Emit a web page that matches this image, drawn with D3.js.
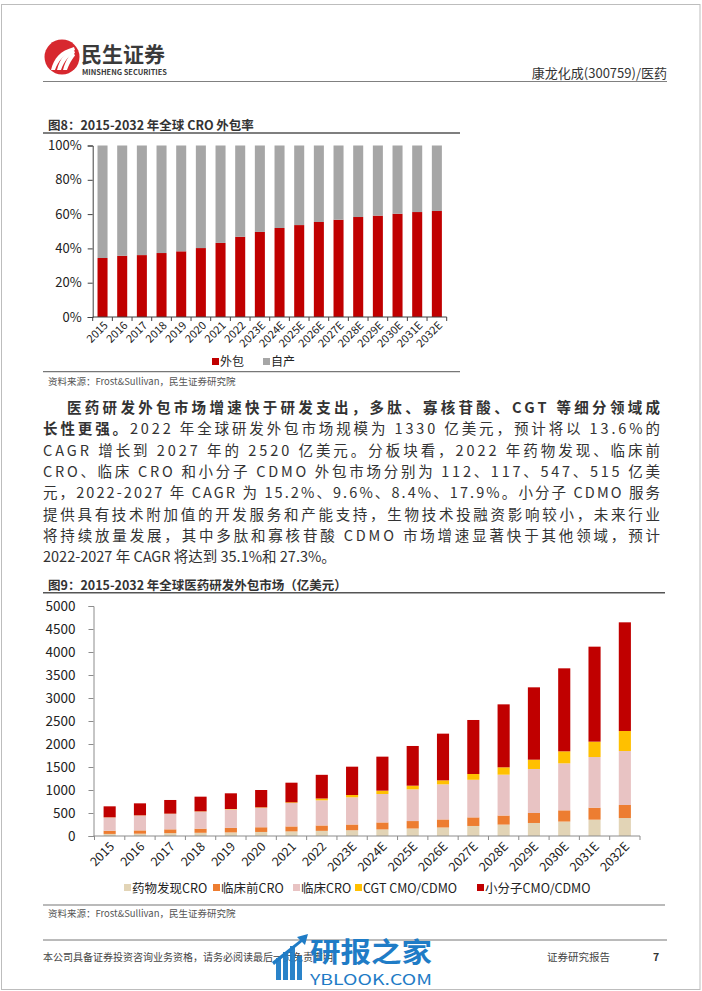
<!DOCTYPE html>
<html><head><meta charset="utf-8">
<script src="https://cdn.jsdelivr.net/npm/d3@7/dist/d3.min.js"></script>
<style>
html,body{margin:0;padding:0;background:#fff;}
svg text{font-family:"Noto Sans CJK SC","Noto Sans",sans-serif;}
</style></head>
<body>
<svg id="page" width="702" height="991"></svg>
<script>
// ---------- DATA ----------
const years = ["2015","2016","2017","2018","2019","2020","2021","2022","2023E","2024E","2025E","2026E","2027E","2028E","2029E","2030E","2031E","2032E"];
// Chart 1: CRO outsourcing rate (%)
const outsourced = [34.4,35.7,36.1,37.3,38.3,40.2,43.2,46.8,49.6,51.9,53.6,55.4,56.7,58.3,59.1,60.2,61.2,61.8];
const inhouse    = [65.6,64.3,63.9,62.7,61.7,59.8,56.8,53.2,50.4,48.1,46.4,44.6,43.3,41.7,40.9,39.8,38.8,38.2];
const pctTicks = [0,20,40,60,80,100];
const legend1 = ["外包","自产"];
// Chart 2: global pharma R&D outsourcing market (亿美元)
const discoveryCRO   = [45,50,62,70,78,88,100,112,125,143,163,185,218,248,283,314,355,391];
const preclinicalCRO = [70,72,83,90,98,102,108,117,125,152,162,175,187,197,217,244,261,283];
const clinicalCRO    = [288,323,336,370,403,423,509,547,591,618,689,763,817,888,957,1022,1101,1174];
const cgtCMO         = [3,4,5,6,8,10,15,39,50,73,80,87,126,160,202,261,334,435];
const smallMolCMO    = [239,261,297,319,341,377,427,515,616,739,863,1015,1174,1369,1573,1804,2065,2362];
const valTicks = [0,500,1000,1500,2000,2500,3000,3500,4000,4500,5000];
const legend2 = ["药物发现CRO","临床前CRO","临床CRO","CGT CMO/CDMO","小分子CMO/CDMO"];

const paragraph = [
  {x:67, w:593, parts:[{t:"医药研发外包市场增速快于研发支出，多肽、寡核苷酸、CGT 等细分领域成",b:true}]},
  {x:43, w:617, parts:[{t:"长性更强。",b:true},{t:"2022 年全球研发外包市场规模为 1330 亿美元，预计将以 13.6%的"}]},
  {x:43, w:617, parts:[{t:"CAGR 增长到 2027 年的 2520 亿美元。分板块看，2022 年药物发现、临床前"}]},
  {x:43, w:617, parts:[{t:"CRO、临床 CRO 和小分子 CDMO 外包市场分别为 112、117、547、515 亿美"}]},
  {x:43, w:617, parts:[{t:"元，2022-2027 年 CAGR 为 15.2%、9.6%、8.4%、17.9%。小分子 CDMO 服务"}]},
  {x:43, w:617, parts:[{t:"提供具有技术附加值的开发服务和产能支持，生物技术投融资影响较小，未来行业"}]},
  {x:43, w:617, parts:[{t:"将持续放量发展，其中多肽和寡核苷酸 CDMO 市场增速显著快于其他领域，预计"}]},
  {x:43, w:null, parts:[{t:"2022-2027 年 CAGR 将达到 35.1%和 27.3%。"}]}
];

// ---------- PAGE ----------
const svg = d3.select("#page");
const txt = "#333333";

svg.append("rect").attr("x",1.5).attr("y",4.5).attr("width",698.5).attr("height",985)
  .attr("fill","none").attr("stroke","#bdbdbd").attr("stroke-width",1);

// logo
const logo = svg.append("g");
logo.append("circle").attr("cx",62).attr("cy",57).attr("r",17.5).attr("fill","#D7282F");
[0,1,2].forEach(function(i){
  logo.append("path")
    .attr("d","M"+(51+i*6)+",70 C"+(54+i*6)+",58 "+(60+i*6)+",51 74,"+(47+i*3)+" L75,"+(50+i*3)+" C"+(64+i*6)+",54 "+(58+i*6)+",61 "+(55+i*6)+",70 Z")
    .attr("fill","#fff");
});
svg.append("text").attr("x",81).attr("y",62).attr("font-size",21).attr("font-weight","bold")
  .attr("fill","#3a3a3a").text("民生证券");
svg.append("text").attr("x",82).attr("y",75).attr("font-size",7).attr("font-weight","bold")
  .attr("fill","#3a3a3a").attr("textLength",85).attr("lengthAdjust","spacingAndGlyphs").text("MINSHENG SECURITIES");
svg.append("text").attr("x",667).attr("y",78).attr("text-anchor","end").attr("font-size",13)
  .attr("fill",txt).text("康龙化成(300759)/医药");
svg.append("line").attr("x1",43).attr("x2",667).attr("y1",81.5).attr("y2",81.5).attr("stroke","#808080").attr("stroke-width",1);

// ---------- CHART 1 ----------
svg.append("text").attr("x",48).attr("y",130).attr("font-size",12.5).attr("font-weight","bold")
  .attr("fill",txt).text("图8：2015-2032 年全球 CRO 外包率");
svg.append("line").attr("x1",43).attr("x2",460).attr("y1",133).attr("y2",133).attr("stroke","#555").attr("stroke-width",1.5);

const x1 = d3.scaleBand().domain(years).range([92.7,446.7]).paddingInner(0.49).paddingOuter(0.245);
const y1 = d3.scaleLinear().domain([0,100]).range([317,145.5]);
const g1 = svg.append("g");
const data1 = years.map((y,i)=>({year:y, out:outsourced[i], inh:inhouse[i]}));
const stack1 = d3.stack().keys(["out","inh"])(data1);
const col1 = ["#C00000","#A6A6A6"];
g1.selectAll("g.s").data(stack1).join("g").attr("fill",(d,i)=>col1[i])
  .selectAll("rect").data(d=>d).join("rect")
  .attr("x",d=>x1(d.data.year)).attr("width",x1.bandwidth())
  .attr("y",d=>y1(d[1])).attr("height",d=>y1(d[0])-y1(d[1]));

const ya1 = g1.append("g").attr("transform","translate(92.7,0)")
  .call(d3.axisLeft(y1).tickValues(pctTicks).tickFormat(d=>d+"%").tickSize(5).tickPadding(6));
ya1.select(".domain").attr("stroke","#404040");
ya1.selectAll(".tick line").attr("stroke","#404040");
ya1.selectAll("text").attr("font-size",13).attr("fill","#222").attr("font-family","'Noto Sans','Noto Sans CJK SC',sans-serif");

const xa1 = g1.append("g").attr("transform","translate(0,317)");
xa1.append("line").attr("x1",92.7).attr("x2",446.7).attr("stroke","#404040");
const bnd1 = years.map((y,i)=>92.7 + i*x1.step()).concat([446.7]);
xa1.selectAll("line.t").data(bnd1).join("line").attr("class","t")
  .attr("x1",d=>d).attr("x2",d=>d).attr("y1",0).attr("y2",4).attr("stroke","#404040");
xa1.selectAll("text").data(years).join("text")
  .attr("transform",d=>"translate("+(x1(d)+x1.bandwidth()/2+4)+",7) rotate(-45)")
  .attr("text-anchor","end").attr("dominant-baseline","middle")
  .attr("font-size",11).attr("fill","#222").attr("font-family","'Noto Sans','Noto Sans CJK SC',sans-serif").text(d=>d);

const lg1 = svg.append("g");
[[212,col1[0],legend1[0]],[263,col1[1],legend1[1]]].forEach(function(it){
  lg1.append("rect").attr("x",it[0]).attr("y",358).attr("width",7).attr("height",7).attr("fill",it[1]);
  lg1.append("text").attr("x",it[0]+8).attr("y",366).attr("font-size",12).attr("fill","#222").text(it[2]);
});
svg.append("line").attr("x1",43).attr("x2",460).attr("y1",371.7).attr("y2",371.7).attr("stroke","#777").attr("stroke-width",1.2);
svg.append("text").attr("x",48).attr("y",384.5).attr("font-size",9.5).attr("fill","#555").text("资料来源：Frost&Sullivan，民生证券研究院");

// ---------- PARAGRAPH ----------
paragraph.forEach(function(line,i){
  const t = svg.append("text").attr("x",line.x).attr("y",413 + i*21.3).attr("font-size",14.5).attr("fill","#333");
  if(line.w){ t.attr("textLength",line.w).attr("lengthAdjust","spacing"); }
  line.parts.forEach(function(p){
    t.append("tspan").attr("font-weight",p.b?"bold":"normal").text(p.t);
  });
});

// ---------- CHART 2 ----------
svg.append("text").attr("x",48).attr("y",589.5).attr("font-size",12.5).attr("font-weight","bold")
  .attr("fill",txt).text("图9：2015-2032 年全球医药研发外包市场（亿美元）");
svg.append("line").attr("x1",43).attr("x2",665).attr("y1",592.7).attr("y2",592.7).attr("stroke","#555").attr("stroke-width",1.5);

const x2 = d3.scaleBand().domain(years).range([94.5,640]).paddingInner(0.6).paddingOuter(0.3);
const y2 = d3.scaleLinear().domain([0,5000]).range([836,606]);
const g2 = svg.append("g");
const keys2 = ["a","b","c","d","e"];
const data2 = years.map((y,i)=>({year:y, a:discoveryCRO[i], b:preclinicalCRO[i], c:clinicalCRO[i], d:cgtCMO[i], e:smallMolCMO[i]}));
const stack2 = d3.stack().keys(keys2)(data2);
const col2 = ["#E2D4B6","#ED7D31","#E8C3C3","#FFC000","#C00000"];
g2.selectAll("g.s").data(stack2).join("g").attr("fill",(d,i)=>col2[i])
  .selectAll("rect").data(d=>d).join("rect")
  .attr("x",d=>x2(d.data.year)).attr("width",x2.bandwidth())
  .attr("y",d=>y2(d[1])).attr("height",d=>y2(d[0])-y2(d[1]));

const ya2 = g2.append("g").attr("transform","translate(93.5,0)")
  .call(d3.axisLeft(y2).tickValues(valTicks).tickFormat(d3.format("d")).tickSize(5).tickPadding(13));
ya2.select(".domain").attr("stroke","#8c8c8c");
ya2.selectAll(".tick line").attr("stroke","#8c8c8c");
ya2.selectAll("text").attr("font-size",13.5).attr("fill","#222").attr("font-family","'Noto Sans','Noto Sans CJK SC',sans-serif");

const xa2 = g2.append("g").attr("transform","translate(0,836)");
xa2.append("line").attr("x1",93.5).attr("x2",640).attr("stroke","#8c8c8c");
const bnd2 = years.map((y,i)=>94.5 + i*x2.step()).concat([640]);
xa2.selectAll("line.t").data(bnd2).join("line").attr("class","t")
  .attr("x1",d=>d).attr("x2",d=>d).attr("y1",0).attr("y2",4).attr("stroke","#8c8c8c");
xa2.selectAll("text").data(years).join("text")
  .attr("transform",d=>"translate("+(x2(d)+x2.bandwidth()/2+3)+",9) rotate(-45)")
  .attr("text-anchor","end").attr("dominant-baseline","middle")
  .attr("font-size",12.5).attr("fill","#222").attr("font-family","'Noto Sans','Noto Sans CJK SC',sans-serif").text(d=>d);

const lgx = [124,213,293,355,477];
const lg2 = svg.append("g");
legend2.forEach(function(name,i){
  lg2.append("rect").attr("x",lgx[i]).attr("y",884).attr("width",7).attr("height",7).attr("fill",col2[i]);
  lg2.append("text").attr("x",lgx[i]+8).attr("y",892.5).attr("font-size",12.5).attr("fill","#222").text(name);
});
svg.append("line").attr("x1",43).attr("x2",665).attr("y1",905).attr("y2",905).attr("stroke","#777").attr("stroke-width",1.2);
svg.append("text").attr("x",48).attr("y",916.5).attr("font-size",9.5).attr("fill","#555").text("资料来源：Frost&Sullivan，民生证券研究院");

// ---------- FOOTER ----------
svg.append("line").attr("x1",43).attr("x2",667).attr("y1",940).attr("y2",940).attr("stroke","#777").attr("stroke-width",1);
svg.append("text").attr("x",43).attr("y",960.5).attr("font-size",10).attr("fill","#444").text("本公司具备证券投资咨询业务资格，请务必阅读最后一页免责声明");
svg.append("text").attr("x",547).attr("y",960.5).attr("font-size",10.5).attr("fill","#444").text("证券研究报告");
svg.append("text").attr("x",656).attr("y",960.5).attr("text-anchor","middle").attr("font-size",10.5).attr("font-weight","bold").attr("fill","#333").text("7");

// watermark (overlays the footer, as in the reference)
const wm = svg.append("g").attr("fill","#1F7CC6");
[[276,958,5,22],[283,952,5,28],[290,946,5,34],[297,956,5,24]].forEach(function(r){
  wm.append("rect").attr("x",r[0]).attr("y",r[1]).attr("width",r[2]).attr("height",r[3]).attr("opacity",0.95);
});
wm.append("path").attr("d","M272,962 L300,940 L297,937 L308,934 L305,945 L302,942 L274,965 Z");
wm.append("text").attr("x",310).attr("y",962).attr("font-size",27).attr("font-weight","bold")
  .attr("textLength",122).attr("lengthAdjust","spacingAndGlyphs").text("研报之家");
wm.append("text").attr("x",310).attr("y",985).attr("font-size",15)
  .attr("textLength",122).attr("lengthAdjust","spacingAndGlyphs").text("YBLOOK.COM");
</script>
</body></html>
